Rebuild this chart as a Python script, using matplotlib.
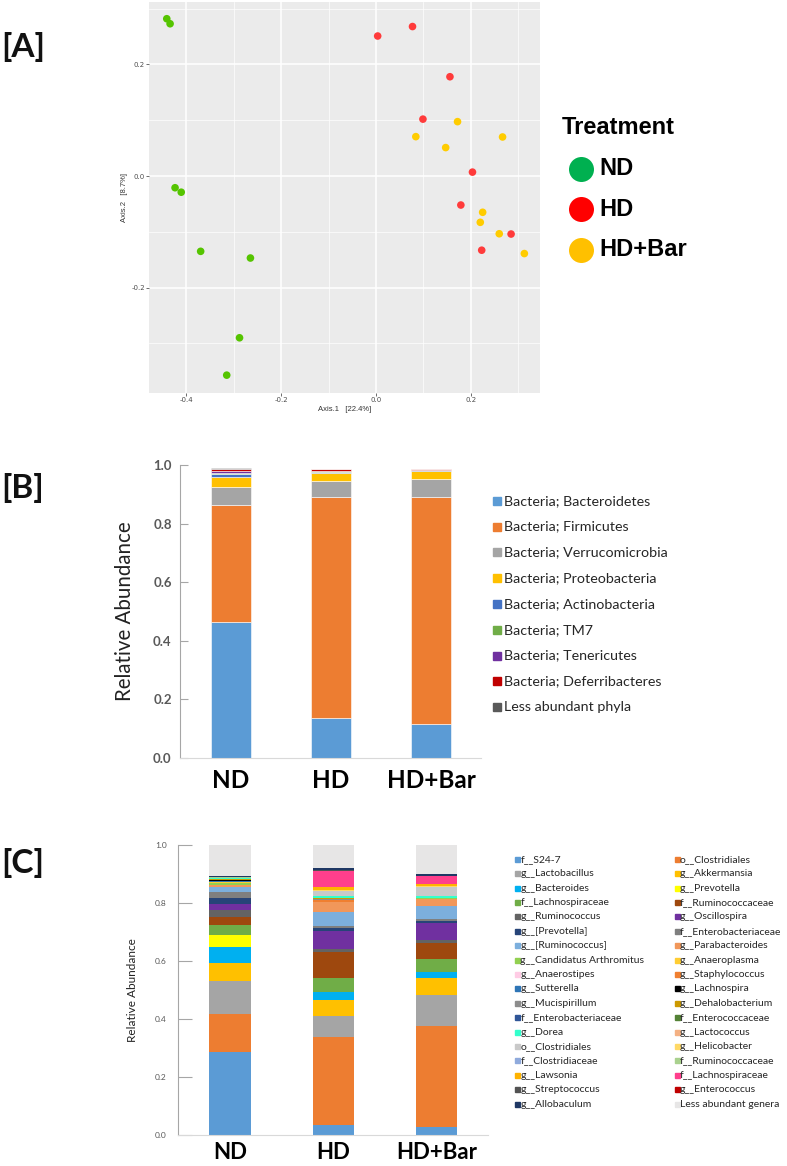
import matplotlib
matplotlib.use("Agg")
import matplotlib.pyplot as plt
from matplotlib.patches import Rectangle
import numpy as np

plt.rcParams['axes.unicode_minus'] = False

W, H = 787, 1166

# ---------------- Data ----------------
# Panel A: PCoA coordinates
nd_x = [-0.4415, -0.4345, -0.424, -0.411, -0.370, -0.265, -0.288, -0.315]
nd_y = [0.282, 0.273, -0.021, -0.029, -0.135, -0.147, -0.290, -0.357]
hd_x = [0.0035, 0.077, 0.156, 0.099, 0.2035, 0.179, 0.285, 0.223]
hd_y = [0.251, 0.268, 0.178, 0.102, 0.007, -0.052, -0.104, -0.133]
hdbar_x = [0.172, 0.084, 0.147, 0.267, 0.225, 0.220, 0.260, 0.313]
hdbar_y = [0.0975, 0.0706, 0.051, 0.070, -0.065, -0.083, -0.1035, -0.139]
treatments = ['ND', 'HD', 'HD+Bar']

groups = ['ND', 'HD', 'HD+Bar']

# Panel B: phylum level
phyla = ['Bacteria; Bacteroidetes', 'Bacteria; Firmicutes', 'Bacteria; Verrucomicrobia',
         'Bacteria; Proteobacteria', 'Bacteria; Actinobacteria', 'Bacteria; TM7',
         'Bacteria; Tenericutes', 'Bacteria; Deferribacteres', 'Less abundant phyla']
phylum_ND = [0.465, 0.397, 0.062, 0.036, 0.008, 0.005, 0.008, 0.004, 0.004]
phylum_HD = [0.138, 0.754, 0.052, 0.028, 0.004, 0.002, 0.002, 0.007, 0.001]
phylum_HDBar = [0.117, 0.775, 0.059, 0.027, 0.004, 0.001, 0.001, 0.001, 0.001]

# Panel C: genus level
genera = ['f__S24-7', 'o__Clostridiales', 'g__Lactobacillus', 'g__Akkermansia',
          'g__Bacteroides', 'g__Prevotella', 'f__Lachnospiraceae', 'f__Ruminococcaceae',
          'g__Ruminococcus', 'g__Oscillospira', 'g__[Prevotella]', 'f__Enterobacteriaceae',
          'g__[Ruminococcus]', 'g__Parabacteroides', 'g__Candidatus Arthromitus', 'g__Anaeroplasma',
          'g__Anaerostipes', 'g__Staphylococcus', 'g__Sutterella', 'g__Lachnospira',
          'g__Mucispirillum', 'g__Dehalobacterium', 'f__Enterobacteriaceae', 'f__Enterococcaceae',
          'g__Dorea', 'g__Lactococcus', 'o__Clostridiales', 'g__Helicobacter',
          'f__Clostridiaceae', 'f__Ruminococcaceae', 'g__Lawsonia', 'f__Lachnospiraceae',
          'g__Streptococcus', 'g__Enterococcus', 'g__Allobaculum', 'Less abundant genera']
genus_ND = [0.287, 0.132, 0.112, 0.062, 0.055, 0.041, 0.033, 0.029,
            0.023, 0.023, 0.021, 0.020, 0.015, 0.010, 0.005, 0.003,
            0.002, 0.000, 0.002, 0.003, 0.002, 0.002, 0.000, 0.001,
            0.001, 0.001, 0.001, 0.001, 0.000, 0.001, 0.001, 0.001,
            0.000, 0.000, 0.003, 0.105]
genus_HD = [0.034, 0.304, 0.074, 0.053, 0.027, 0.000, 0.051, 0.087,
            0.011, 0.062, 0.009, 0.009, 0.046, 0.035, 0.001, 0.001,
            0.000, 0.007, 0.000, 0.000, 0.003, 0.003, 0.000, 0.000,
            0.006, 0.000, 0.016, 0.006, 0.000, 0.000, 0.009, 0.055,
            0.003, 0.000, 0.007, 0.080]
genus_HDBar = [0.028, 0.349, 0.105, 0.061, 0.020, 0.000, 0.045, 0.055,
               0.008, 0.058, 0.008, 0.009, 0.043, 0.025, 0.001, 0.000,
               0.000, 0.000, 0.000, 0.000, 0.000, 0.000, 0.000, 0.003,
               0.006, 0.000, 0.029, 0.004, 0.000, 0.000, 0.009, 0.026,
               0.000, 0.000, 0.008, 0.098]

# ---------------- Styles ----------------
pt_colors = ['#55C400', '#FF3B3B', '#FFCC00']
leg_colors = ['#00B050', '#FF0000', '#FFC000']
phylum_colors = ['#5B9BD5', '#ED7D31', '#A5A5A5', '#FFC000', '#4472C4', '#70AD47',
                 '#7030A0', '#C00000', '#595959']
genus_colors = ['#5B9BD5', '#ED7D31', '#A5A5A5', '#FFC000', '#00B0F0', '#FFFF00', '#70AD47', '#9E480E',
                '#636363', '#7030A0', '#264478', '#7F7F7F', '#7CAFDD', '#F1975A', '#92D050', '#FFCD33',
                '#FFCCE5', '#F07F30', '#2E75B6', '#000000', '#8C8C8C', '#CC9900', '#2F5597', '#548235',
                '#33FFCC', '#F4B183', '#C9C9C9', '#FFD966', '#8FAADC', '#A9D18E', '#FFB300', '#FF3F8C',
                '#525252', '#C00000', '#1F3864', '#E7E6E6']

FONT = 'Lato'


def rect(x0, y0, x1, y1):
    return [x0 / W, 1 - y1 / H, (x1 - x0) / W, (y1 - y0) / H]


def fx(x):
    return x / W


def fy(y):
    return 1 - y / H


fig = plt.figure(figsize=(W / 100, H / 100), dpi=100)

# ---------------- Panel A ----------------
axA = fig.add_axes(rect(149, 2, 540, 393))
axA.set_facecolor('#EBEBEB')
for xs, ys, c in zip([nd_x, hd_x, hdbar_x], [nd_y, hd_y, hdbar_y], pt_colors):
    axA.scatter(xs, ys, s=30, color=c, edgecolors='none', zorder=3)
axA.set_xlim(-0.479, 0.346)
axA.set_ylim(-0.389, 0.312)
axA.set_xticks([-0.4, -0.2, 0.0, 0.2])
axA.set_yticks([-0.2, 0.0, 0.2])
axA.set_xticks([-0.3, -0.1, 0.1, 0.3], minor=True)
axA.set_yticks([-0.3, -0.1, 0.1, 0.3], minor=True)
axA.set_xticklabels(['-0.4', '-0.2', '0.0', '0.2'])
axA.set_yticklabels(['-0.2', '0.0', '0.2'])
axA.grid(which='major', color='white', linewidth=1.1)
axA.grid(which='minor', color='white', linewidth=0.5)
axA.set_axisbelow(True)
for s in axA.spines.values():
    s.set_visible(False)
axA.tick_params(which='major', length=2, width=0.5, color='#333333', labelsize=5,
                labelcolor='#4D4D4D', pad=1)
axA.tick_params(which='minor', length=0)
axA.set_xlabel('Axis.1   [22.4%]', fontsize=5.5, color='#333333', labelpad=2,
               family='Liberation Sans')
axA.set_ylabel('Axis.2   [8.7%]', fontsize=5.5, color='#333333', labelpad=2,
               family='Liberation Sans')

fig.text(fx(562), fy(128), 'Treatment', fontsize=17, fontweight='bold',
         family='Liberation Sans', va='center', ha='left')
for i, (lab, c) in enumerate(zip(treatments, leg_colors)):
    yy = 168.5 + 40.5 * i
    fig.lines.append(plt.Line2D([fx(580.5)], [fy(yy)], marker='o', markersize=18,
                                color=c, markeredgecolor='none',
                                transform=fig.transFigure))
    fig.text(fx(599), fy(yy), lab, fontsize=17, fontweight='bold',
             family='Liberation Sans', va='center', ha='left')

# ---------------- Panel B ----------------
axB = fig.add_axes(rect(180, 465, 481, 758))
xpos = np.arange(len(groups))
phylum_table = np.array([phylum_ND, phylum_HD, phylum_HDBar])
bottom = np.zeros(len(groups))
for j, name in enumerate(phyla):
    axB.bar(xpos, phylum_table[:, j], width=0.40, bottom=bottom, color=phylum_colors[j],
            edgecolor='white', linewidth=0.4, label=name)
    bottom += phylum_table[:, j]
axB.set_xlim(-0.51, 2.5)
axB.set_ylim(0, 1.0)
axB.set_yticks(np.arange(0, 1.01, 0.2))
axB.set_yticklabels([f'{v:.1f}' for v in np.arange(0, 1.01, 0.2)])
axB.set_xticks(xpos)
axB.set_xticklabels(groups)
for s in ['top', 'right']:
    axB.spines[s].set_visible(False)
axB.spines['left'].set_color('#A6A6A6')
axB.spines['bottom'].set_color('#D9D9D9')
axB.tick_params(axis='y', direction='in', length=6, color='#A6A6A6', labelsize=9.5,
                labelcolor='#595959', pad=6)
axB.tick_params(axis='x', length=0, labelsize=17.5, pad=8)
for t in axB.get_yticklabels():
    t.set_fontweight('bold')
    t.set_family(FONT)
for t in axB.get_xticklabels():
    t.set_fontweight('bold')
    t.set_family(FONT)
axB.set_ylabel('Relative Abundance', fontsize=14.8, family=FONT, labelpad=13, color='#222222')

for j, name in enumerate(phyla):
    yy = 500.7 + 25.8 * j
    fig.add_artist(Rectangle((fx(492.5), fy(yy + 4)), 8 / W, 8 / H, color=phylum_colors[j],
                             transform=fig.transFigure))
    fig.text(fx(504), fy(yy), name, fontsize=10.3, family=FONT, va='center', ha='left',
             color='#262626')

# ---------------- Panel C ----------------
axC = fig.add_axes(rect(177.7, 844.7, 488, 1135.3))
genus_table = np.array([genus_ND, genus_HD, genus_HDBar])
bottom = np.zeros(len(groups))
for j, name in enumerate(genera):
    axC.bar(xpos, genus_table[:, j], width=0.40, bottom=bottom, color=genus_colors[j],
            linewidth=0, label=name)
    bottom += genus_table[:, j]
axC.set_xlim(-0.506, 2.5)
axC.set_ylim(0, 1.0)
axC.set_yticks(np.arange(0, 1.01, 0.2))
axC.set_yticklabels([f'{v:.1f}' for v in np.arange(0, 1.01, 0.2)])
axC.set_xticks(xpos)
axC.set_xticklabels(groups)
for s in ['top', 'right']:
    axC.spines[s].set_visible(False)
axC.spines['left'].set_color('#A6A6A6')
axC.spines['bottom'].set_color('#D9D9D9')
axC.tick_params(axis='y', direction='in', length=10, color='#A6A6A6', labelsize=6,
                labelcolor='#595959', pad=8)
axC.tick_params(axis='x', length=0, labelsize=16, pad=5)
for t in axC.get_yticklabels():
    t.set_family(FONT)
for t in axC.get_xticklabels():
    t.set_fontweight('bold')
    t.set_family(FONT)
axC.set_ylabel('Relative Abundance', fontsize=8.5, family=FONT, labelpad=12, color='#222222')

for j, name in enumerate(genera):
    col = j % 2
    row = j // 2
    yy = 859.3 + 14.4 * row
    x0 = 515 if col == 0 else 674.5
    fig.add_artist(Rectangle((fx(x0), fy(yy + 2.5)), 5 / W, 5 / H, color=genus_colors[j],
                             transform=fig.transFigure))
    fig.text(fx(x0 + 5.5), fy(yy), name, fontsize=7.5, family=FONT, va='center', ha='left',
             color='#262626')

# Panel labels
for lab, yy in zip(['[A]', '[B]', '[C]'], [47, 488, 863]):
    fig.text(fx(1), fy(yy), lab, fontsize=24, fontweight='bold', family=FONT,
             va='center', ha='left', color='#111111')

fig.savefig('out.png', dpi=100)
